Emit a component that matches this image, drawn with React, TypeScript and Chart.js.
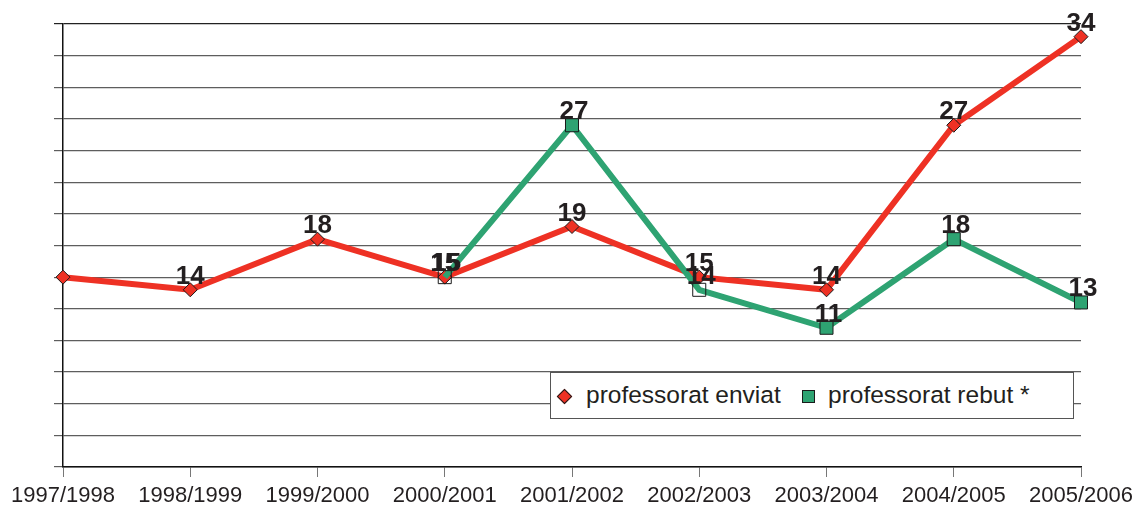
import React, { useEffect, useRef } from "react";
import { Chart, registerables } from "chart.js";

Chart.register(...registerables);

const categories = ["1997/1998", "1998/1999", "1999/2000", "2000/2001", "2001/2002", "2002/2003", "2003/2004", "2004/2005", "2005/2006"];
const enviat = [15, 14, 18, 15, 19, 15, 14, 27, 34];
const enviatShowLabel = [false, true, true, true, true, true, true, true, true];
const rebut = [null, null, null, 15, 27, 14, 11, 18, 13];
const rebutHollow = [false, false, false, true, false, true, false, false, false];
const seriesNames = ["professorat enviat", "professorat rebut *"];

const RED = "#ee3124";
const GREEN = "#2ea372";
const TEXT = "#231f20";

const labelPlugin = {
  id: "pointLabels",
  afterDatasetsDraw(chart: any) {
    const ctx = chart.ctx;
    ctx.save();
    ctx.font = "bold 26px 'Liberation Sans', Arial, sans-serif";
    ctx.fillStyle = TEXT;
    ctx.textAlign = "center";
    ctx.textBaseline = "alphabetic";
    const order = [1, 0];
    order.forEach((di) => {
      const meta = chart.getDatasetMeta(di);
      const ds = chart.data.datasets[di];
      meta.data.forEach((pt: any, i: number) => {
        const v = ds.data[i];
        if (v === null || v === undefined) return;
        if (di === 1 && !enviatShowLabel[i]) return;
        const dx = di === 0 ? 2 : 0;
        ctx.fillText(String(v), pt.x + dx, pt.y - 6);
      });
    });
    ctx.restore();
  },
};

export default function App() {
  const ref = useRef<HTMLCanvasElement>(null);
  useEffect(() => {
    if (!ref.current) return;
    const chart = new Chart(ref.current, {
      type: "line",
      data: {
        labels: categories,
        datasets: [
          {
            label: seriesNames[1],
            data: rebut,
            borderColor: GREEN,
            borderWidth: 6,
            pointStyle: "rect",
            pointRadius: 9.2,
            pointBackgroundColor: rebutHollow.map((h) => (h ? "rgba(0,0,0,0)" : GREEN)),
            pointBorderColor: "#1a1a1a",
            pointBorderWidth: 1,
            tension: 0,
            spanGaps: false,
          },
          {
            label: seriesNames[0],
            data: enviat,
            borderColor: RED,
            borderWidth: 6,
            pointStyle: "rectRot",
            pointRadius: 7,
            pointBackgroundColor: RED,
            pointBorderColor: "#1a1a1a",
            pointBorderWidth: 1,
            tension: 0,
          },
        ],
      },
      options: {
        animation: false,
        responsive: false,
        maintainAspectRatio: false,
        layout: { padding: { top: 24, right: 58, bottom: 0, left: 0 } },
        plugins: {
          legend: { display: false },
          tooltip: { enabled: false },
        },
        scales: {
          x: {
            offset: false,
            afterFit: (s: any) => {
              s.height = 42;
            },
            grid: {
              display: true,
              drawOnChartArea: false,
              drawTicks: true,
              tickLength: 10,
              color: "#777",
              lineWidth: 1,
            },
            border: { display: true, color: "#111", width: 1.5 },
            ticks: {
              color: TEXT,
              font: { family: "'Liberation Sans', Arial, sans-serif", size: 22 },
              padding: 6,
              maxRotation: 0,
              autoSkip: false,
            },
          },
          y: {
            min: 0,
            max: 35,
            afterFit: (s: any) => {
              s.width = 63;
            },
            grid: {
              display: true,
              drawTicks: true,
              tickLength: 9,
              color: (c: any) => (c.tick && c.tick.value === 35 ? "#222" : "#5e5e5e"),
              lineWidth: 1.2,
            },
            border: { display: true, color: "#111", width: 1.5 },
            ticks: { display: false, stepSize: 2.5 },
          },
        },
      },
      plugins: [labelPlugin],
    });
    return () => chart.destroy();
  }, []);

  return (
    <div style={{ position: "fixed", left: 0, top: 0, width: 1139, height: 509, background: "#fff" }}>
      <canvas ref={ref} width={1139} height={509} style={{ display: "block" }} />
      <div
        style={{
          position: "absolute",
          left: 550,
          top: 372,
          width: 524,
          height: 47,
          border: "1px solid #555",
          background: "#fff",
          boxSizing: "border-box",
          fontFamily: "'Liberation Sans', Arial, sans-serif",
          fontSize: 24.5,
          color: TEXT,
        }}
      >
        <div
          style={{
            position: "absolute",
            left: 8,
            top: 18,
            width: 9,
            height: 9,
            background: RED,
            border: "1px solid #1a1a1a",
            transform: "rotate(45deg)",
          }}
        />
        <div style={{ position: "absolute", left: 35, top: 8, lineHeight: "28px", whiteSpace: "nowrap" }}>{seriesNames[0]}</div>
        <div
          style={{
            position: "absolute",
            left: 251,
            top: 17,
            width: 11,
            height: 11,
            background: GREEN,
            border: "1px solid #1a1a1a",
          }}
        />
        <div style={{ position: "absolute", left: 277, top: 8, lineHeight: "28px", whiteSpace: "nowrap" }}>{seriesNames[1]}</div>
      </div>
    </div>
  );
}
